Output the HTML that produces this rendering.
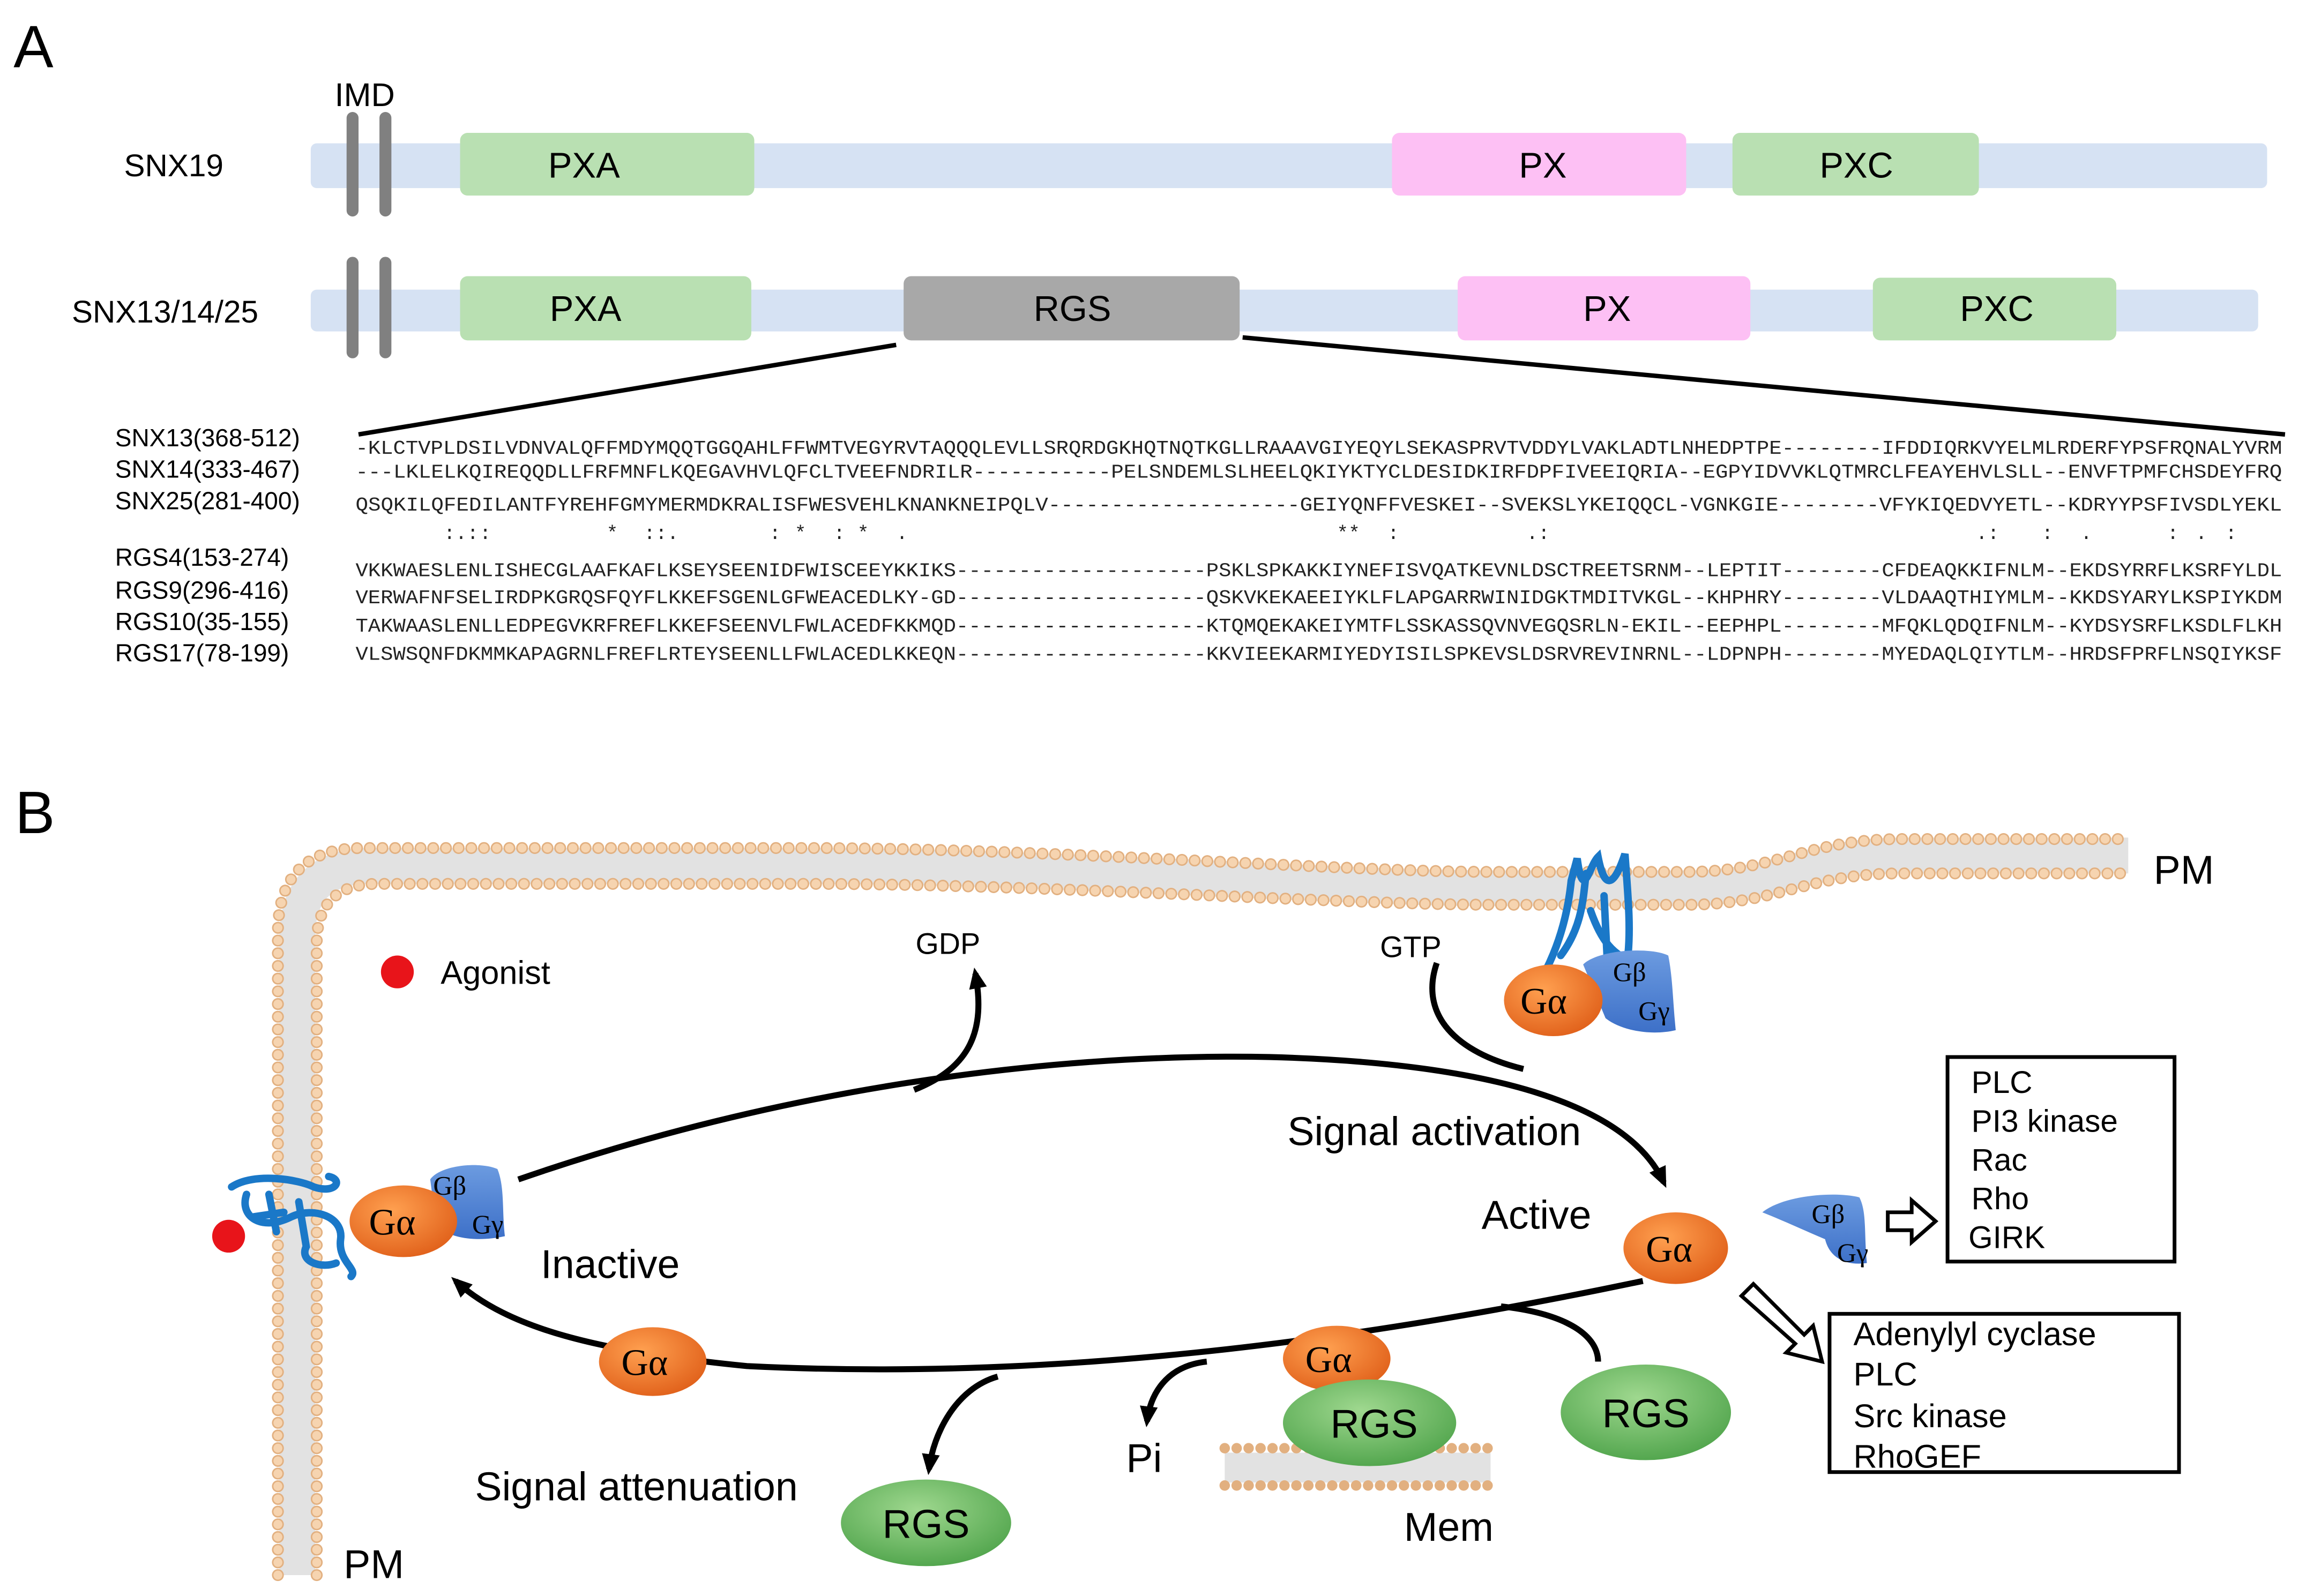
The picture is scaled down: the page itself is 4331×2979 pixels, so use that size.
<!DOCTYPE html>
<html><head><meta charset="utf-8"><style>html,body{margin:0;padding:0;background:#fff}svg{display:block}</style></head>
<body>
<svg xmlns="http://www.w3.org/2000/svg" width="4331" height="2979" viewBox="0 0 1554 1069" font-family="Liberation Sans, sans-serif">
<defs>
<radialGradient id="og" cx="40%" cy="35%" r="70%"><stop offset="0" stop-color="#ffa050"/><stop offset="1" stop-color="#e0601a"/></radialGradient>
<radialGradient id="gg" cx="45%" cy="35%" r="70%"><stop offset="0" stop-color="#9fd88f"/><stop offset="1" stop-color="#4ea34a"/></radialGradient>
<linearGradient id="bg" x1="0" y1="0" x2="0" y2="1"><stop offset="0" stop-color="#6c9be0"/><stop offset="1" stop-color="#3d70c8"/></linearGradient>
<marker id="ah" markerWidth="16" markerHeight="14" refX="10" refY="7" orient="auto" markerUnits="userSpaceOnUse"><path d="M0,1 L14,7 L0,13 z" fill="#000"/></marker>
</defs>

<!-- Panel A -->
<text x="9" y="45" font-size="40">A</text>
<text x="224" y="71" font-size="22">IMD</text>
<text x="83" y="118" font-size="21">SNX19</text>
<rect x="208" y="96" width="1310" height="30" rx="4" fill="#d6e2f3"/>
<rect x="232" y="75" width="8" height="70" rx="4" fill="#808080"/>
<rect x="254" y="75" width="8" height="70" rx="4" fill="#808080"/>
<rect x="308" y="89" width="197" height="42" rx="5" fill="#b9e0b2"/>
<rect x="932" y="89" width="197" height="42" rx="5" fill="#fdc0f4"/>
<rect x="1160" y="89" width="165" height="42" rx="5" fill="#b9e0b2"/>
<text x="391" y="119" font-size="24" text-anchor="middle">PXA</text>
<text x="1033" y="119" font-size="24" text-anchor="middle">PX</text>
<text x="1243" y="119" font-size="24" text-anchor="middle">PXC</text>

<text x="48" y="216" font-size="21">SNX13/14/25</text>
<rect x="208" y="194" width="1304" height="28" rx="4" fill="#d6e2f3"/>
<rect x="232" y="172" width="8" height="68" rx="4" fill="#808080"/>
<rect x="254" y="172" width="8" height="68" rx="4" fill="#808080"/>
<rect x="308" y="185" width="195" height="43" rx="5" fill="#b9e0b2"/>
<rect x="605" y="185" width="225" height="43" rx="5" fill="#a8a8a8"/>
<rect x="976" y="185" width="196" height="43" rx="5" fill="#fdc0f4"/>
<rect x="1254" y="186" width="163" height="42" rx="5" fill="#b9e0b2"/>
<text x="392" y="215" font-size="24" text-anchor="middle">PXA</text>
<text x="718" y="215" font-size="24" text-anchor="middle">RGS</text>
<text x="1076" y="215" font-size="24" text-anchor="middle">PX</text>
<text x="1337" y="215" font-size="24" text-anchor="middle">PXC</text>
<line x1="600" y1="231" x2="240" y2="291" stroke="#000" stroke-width="3"/>
<line x1="832" y1="226" x2="1530" y2="291" stroke="#000" stroke-width="3"/>

<g font-size="16.5">
<text x="77" y="299">SNX13(368-512)</text>
<text x="77" y="320">SNX14(333-467)</text>
<text x="77" y="341">SNX25(281-400)</text>
<text x="77" y="379">RGS4(153-274)</text>
<text x="77" y="401">RGS9(296-416)</text>
<text x="77" y="422">RGS10(35-155)</text>
<text x="77" y="443">RGS17(78-199)</text>
</g>
<g font-family="Liberation Mono, monospace" font-size="13" fill="#222">
<text x="238" y="304" textLength="1290" lengthAdjust="spacingAndGlyphs">-KLCTVPLDSILVDNVALQFFMDYMQQTGGQAHLFFWMTVEGYRVTAQQQLEVLLSRQRDGKHQTNQTKGLLRAAAVGIYEQYLSEKASPRVTVDDYLVAKLADTLNHEDPTPE--------IFDDIQRKVYELMLRDERFYPSFRQNALYVRM</text>
<text x="238" y="320" textLength="1290" lengthAdjust="spacingAndGlyphs">---LKLELKQIREQQDLLFRFMNFLKQEGAVHVLQFCLTVEEFNDRILR-----------PELSNDEMLSLHEELQKIYKTYCLDESIDKIRFDPFIVEEIQRIA--EGPYIDVVKLQTMRCLFEAYEHVLSLL--ENVFTPMFCHSDEYFRQ</text>
<text x="238" y="342" textLength="1290" lengthAdjust="spacingAndGlyphs">QSQKILQFEDILANTFYREHFGMYMERMDKRALISFWESVEHLKNANKNEIPQLV--------------------GEIYQNFFVESKEI--SVEKSLYKEIQQCL-VGNKGIE--------VFYKIQEDVYETL--KDRYYPSFIVSDLYEKL</text>
<text x="238" y="386" textLength="1290" lengthAdjust="spacingAndGlyphs">VKKWAESLENLISHECGLAAFKAFLKSEYSEENIDFWISCEEYKKIKS--------------------PSKLSPKAKKIYNEFISVQATKEVNLDSCTREETSRNM--LEPTIT--------CFDEAQKKIFNLM--EKDSYRRFLKSRFYLDL</text>
<text x="238" y="404" textLength="1290" lengthAdjust="spacingAndGlyphs">VERWAFNFSELIRDPKGRQSFQYFLKKEFSGENLGFWEACEDLKY-GD--------------------QSKVKEKAEEIYKLFLAPGARRWINIDGKTMDITVKGL--KHPHRY--------VLDAAQTHIYMLM--KKDSYARYLKSPIYKDM</text>
<text x="238" y="423" textLength="1290" lengthAdjust="spacingAndGlyphs">TAKWAASLENLLEDPEGVKRFREFLKKEFSEENVLFWLACEDFKKMQD--------------------KTQMQEKAKEIYMTFLSSKASSQVNVEGQSRLN-EKIL--EEPHPL--------MFQKLQDQIFNLM--KYDSYSRFLKSDLFLKH</text>
<text x="238" y="442" textLength="1290" lengthAdjust="spacingAndGlyphs">VLSWSQNFDKMMKAPAGRNLFREFLRTEYSEENLLFWLACEDLKKEQN--------------------KKVIEEKARMIYEDYISILSPKEVSLDSRVREVINRNL--LDPNPH--------MYEDAQLQIYTLM--HRDSFPRFLNSQIYKSF</text>
</g>
<g font-family="Liberation Mono, monospace" font-size="13" fill="#222">
<text x="297" y="361">:.:</text><text x="321" y="361">:</text>
<text x="406" y="361">*</text><text x="431" y="361">::.</text>
<text x="515" y="361">:</text><text x="532" y="361">*</text><text x="558" y="361">:</text><text x="574" y="361">*</text><text x="600" y="361">.</text>
<text x="895" y="361">**</text><text x="929" y="361">:</text><text x="1022" y="361">.:</text>
<text x="1323" y="361">.:</text><text x="1367" y="361">:</text><text x="1393" y="361">.</text><text x="1451" y="361">:</text><text x="1470" y="361">.</text><text x="1490" y="361">:</text>
</g>

<!-- Panel B -->
<text x="10" y="558" font-size="40">B</text>

<!-- Membrane -->
<path d="M199 1055 L199 628 Q199 580 248 580 L540 580 C700 580 900 595 1000 595 L1129 595 C1190 595 1210 573 1273 573 L1425 573" fill="none" stroke="#e2e2e2" stroke-width="24"/>
<g fill="none" stroke-linecap="round" stroke-dasharray="0 8.5">
<path d="M186 1055 L186 625 Q186 568 243 568 L540 568 C700 568 900 584 1000 584 L1129 584 C1190 584 1210 562 1273 562 L1425 562" stroke="#e2b080" stroke-width="8"/>
<path d="M186 1055 L186 625 Q186 568 243 568 L540 568 C700 568 900 584 1000 584 L1129 584 C1190 584 1210 562 1273 562 L1425 562" stroke="#f6d4b0" stroke-width="6"/>
<path d="M212 1055 L212 632 Q212 592 253 592 L540 592 C700 592 900 606 1000 606 L1129 606 C1190 606 1210 585 1273 585 L1425 585" stroke="#e2b080" stroke-width="8"/>
<path d="M212 1055 L212 632 Q212 592 253 592 L540 592 C700 592 900 606 1000 606 L1129 606 C1190 606 1210 585 1273 585 L1425 585" stroke="#f6d4b0" stroke-width="6"/>
</g>
<!-- Mem -->
<rect x="820" y="973" width="178" height="20" fill="#e2e2e2"/>
<line x1="820" y1="970" x2="998" y2="970" stroke="#e2b080" stroke-width="7" stroke-linecap="round" stroke-dasharray="0 8"/>
<line x1="820" y1="995" x2="998" y2="995" stroke="#e2b080" stroke-width="7" stroke-linecap="round" stroke-dasharray="0 8"/>

<text x="1442" y="592" font-size="27">PM</text>
<text x="230" y="1057" font-size="27">PM</text>
<circle cx="266" cy="651" r="11" fill="#e8141a"/>
<text x="295" y="659" font-size="22">Agonist</text>
<text x="613" y="639" font-size="20">GDP</text>
<text x="924" y="641" font-size="20">GTP</text>
<text x="862" y="767" font-size="27">Signal activation</text>
<text x="992" y="823" font-size="27">Active</text>
<text x="362" y="856" font-size="27">Inactive</text>
<text x="318" y="1005" font-size="27">Signal attenuation</text>
<text x="754" y="986" font-size="27">Pi</text>
<text x="940" y="1032" font-size="27">Mem</text>

<!-- Boxes -->
<rect x="1304" y="708" width="152" height="137" fill="none" stroke="#000" stroke-width="2.5"/>
<g font-size="21"><text x="1320" y="732">PLC</text><text x="1320" y="758">PI3 kinase</text><text x="1320" y="784">Rac</text><text x="1320" y="810">Rho</text><text x="1318" y="836">GIRK</text></g>
<rect x="1225" y="880" width="234" height="106" fill="none" stroke="#000" stroke-width="2.5"/>
<g font-size="22"><text x="1241" y="901">Adenylyl cyclase</text><text x="1241" y="928">PLC</text><text x="1241" y="956">Src kinase</text><text x="1241" y="983">RhoGEF</text></g>

<!-- Arrows -->
<g fill="none" stroke="#000" stroke-width="4">
<path d="M347 790 C520 730 700 705 850 708 C1000 712 1090 740 1114 792" marker-end="url(#ah)"/>
<path d="M612 730 C650 715 660 690 653 652" marker-end="url(#ah)"/>
<path d="M962 645 C950 680 975 705 1020 716"/>
<path d="M1100 858 C900 900 700 925 500 915 C400 905 340 890 305 858" marker-end="url(#ah)"/>
<path d="M668 922 C640 930 625 960 622 984" marker-end="url(#ah)"/>
<path d="M808 912 C780 915 770 935 768 952" marker-end="url(#ah)"/>
<path d="M1005 875 C1050 880 1070 895 1070 912"/>
</g>
<!-- open arrows -->
<path d="M1264 812 L1280 812 L1280 804 L1296 818 L1280 832 L1280 824 L1264 824 Z" fill="#fff" stroke="#000" stroke-width="2.5"/>
<path d="M1166 868 L1174 860 L1208 894 L1214 888 L1220 912 L1196 906 L1202 900 Z" fill="#fff" stroke="#000" stroke-width="2.5"/>

<!-- GPCR left -->
<g fill="none" stroke="#1a78c8" stroke-width="5" stroke-linecap="round">
<path d="M155 795 C170 785 200 790 210 795 C225 800 230 790 220 788 M165 800 C160 815 175 825 195 815 C210 808 230 815 228 830 C226 845 240 850 235 855 M180 800 L185 825 M200 805 L205 835 C200 845 215 850 225 846 M170 815 L190 812"/>
</g>
<circle cx="153" cy="828" r="11" fill="#e8141a"/>
<!-- GPCR top -->
<g fill="none" stroke="#1a78c8" stroke-width="5" stroke-linecap="round">
<path d="M1035 650 C1045 630 1050 610 1052 590 L1056 575 C1060 605 1064 580 1070 574 C1075 600 1082 590 1088 572 C1090 600 1092 620 1090 640 M1045 640 C1060 620 1060 600 1062 585 M1074 600 L1076 640 M1065 610 C1072 630 1080 640 1095 645"/>
</g>

<!-- G protein complexes -->
<path d="M288 790 C295 780 322 778 333 783 C338 795 336 812 338 828 C320 832 300 830 292 820 Z" fill="url(#bg)"/>
<ellipse cx="270" cy="818" rx="36" ry="24" fill="url(#og)"/>
<text x="247" y="827" font-size="25" font-family="Liberation Serif, serif">Gα</text>
<text x="290" y="800" font-size="18" font-family="Liberation Serif, serif">Gβ</text>
<text x="316" y="826" font-size="18" font-family="Liberation Serif, serif">Gγ</text>
<path d="M1060 646 C1070 636 1105 634 1117 640 C1120 655 1120 670 1122 690 C1105 694 1085 690 1075 682 Z" fill="url(#bg)"/>
<ellipse cx="1040" cy="670" rx="33" ry="24" fill="url(#og)"/>
<text x="1018" y="679" font-size="25" font-family="Liberation Serif, serif">Gα</text>
<text x="1080" y="657" font-size="18" font-family="Liberation Serif, serif">Gβ</text>
<text x="1097" y="683" font-size="18" font-family="Liberation Serif, serif">Gγ</text>
<ellipse cx="1122" cy="836" rx="35" ry="24" fill="url(#og)"/>
<text x="1102" y="845" font-size="25" font-family="Liberation Serif, serif">Gα</text>
<path d="M1180 812 C1195 800 1230 798 1245 802 C1250 812 1248 825 1250 846 C1235 848 1225 842 1222 830 C1210 825 1195 818 1180 812 Z" fill="url(#bg)"/>
<text x="1213" y="819" font-size="18" font-family="Liberation Serif, serif">Gβ</text>
<text x="1230" y="845" font-size="18" font-family="Liberation Serif, serif">Gγ</text>
<ellipse cx="437" cy="912" rx="36" ry="23" fill="url(#og)"/>
<text x="416" y="921" font-size="25" font-family="Liberation Serif, serif">Gα</text>
<ellipse cx="620" cy="1020" rx="57" ry="29" fill="url(#gg)"/>
<text x="620" y="1030" font-size="27" text-anchor="middle">RGS</text>
<ellipse cx="1102" cy="946" rx="57" ry="32" fill="url(#gg)"/>
<text x="1102" y="956" font-size="27" text-anchor="middle">RGS</text>
<ellipse cx="895" cy="910" rx="36" ry="22" fill="url(#og)"/>
<text x="874" y="919" font-size="25" font-family="Liberation Serif, serif">Gα</text>
<ellipse cx="917" cy="953" rx="58" ry="29" fill="url(#gg)"/>
<text x="920" y="963" font-size="27" text-anchor="middle">RGS</text>
</svg>
</body></html>
